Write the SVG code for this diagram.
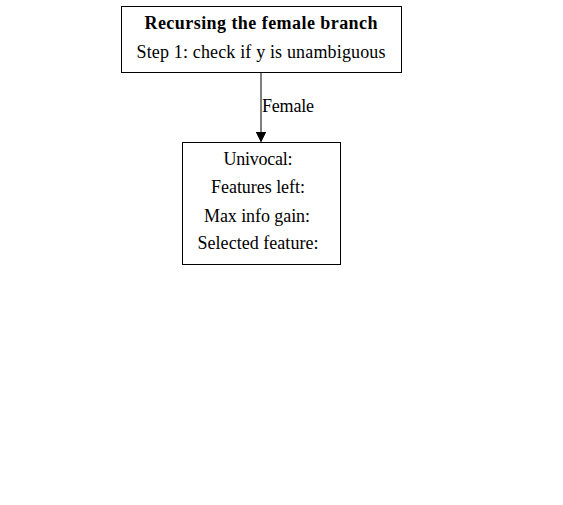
<svg xmlns="http://www.w3.org/2000/svg" width="563" height="505" viewBox="0 0 563 505">
<style>
text{font-family:"Liberation Serif","Times New Roman",serif;font-size:18px;fill:#000}
.c{text-anchor:middle}
.b{font-weight:bold}
rect{fill:#fff;stroke:#000;stroke-width:1}
</style>
<defs><marker id="ah" markerWidth="10" markerHeight="12" refX="10" refY="5" orient="auto" markerUnits="userSpaceOnUse"><path d="M0,0 L10,5 L0,10 z" fill="#000" stroke="#000"/></marker></defs>
<rect x="0" y="0" width="563" height="505" style="stroke:none"/>
<g id="connectors">
<line x1="261" y1="72.5" x2="261" y2="141.5" stroke="#000" marker-end="url(#ah)"/>
<text x="262" y="111.5" textLength="52">Female</text>
</g>
<g id="n1">
<rect x="121.5" y="6.5" width="280" height="66"/>
<text class="c b" x="261" y="28.5" textLength="233">Recursing the female branch</text>
<text class="c" x="261" y="57.5" textLength="249">Step 1: check if y is unambiguous</text>
</g>
<g id="n2">
<rect x="182.5" y="142.5" width="158" height="122"/>
<text class="c" x="258" y="165" textLength="69">Univocal:</text>
<text class="c" x="258" y="193" textLength="94">Features left:</text>
<text class="c" x="257" y="221.5" textLength="106">Max info gain:</text>
<text class="c" x="258" y="249" textLength="121">Selected feature:</text>
</g>
</svg>
